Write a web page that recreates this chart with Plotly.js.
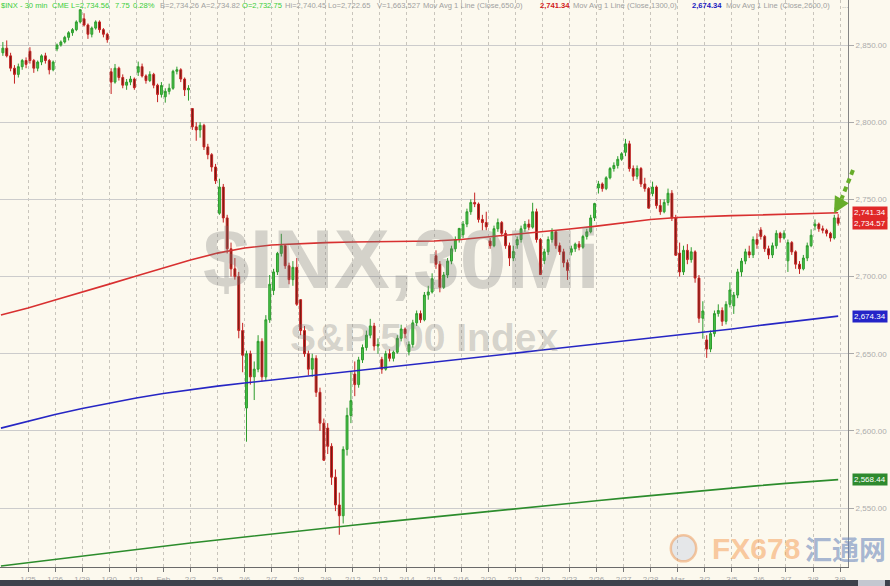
<!DOCTYPE html>
<html><head><meta charset="utf-8">
<script src="https://cdn.plot.ly/plotly-3.0.1.min.js"></script>
<style>html,body{margin:0;padding:0;background:#fcf9ee;}#chart{width:890px;height:586px;}</style>
</head><body><div id="chart"></div>
<script>
// ---- DATA ----
const BARS_PER_DAY = 7;
const dayLabels = ['1/24','1/25','1/26','1/29','1/30','1/31','Feb','2/2','2/5','2/6','2/7','2/8','2/9','2/12','2/13','2/14','2/15','2/16','2/20','2/21','2/22','2/23','2/26','2/27','2/28','Mar','3/2','3/5','3/6','3/7','3/8','3/9'];

const opens = [
 2845,2848,2843,2835,2831,2836,2840,
 2846,2840,2835,2839,2843,2840,2834,
 2847.5,2850,2852,2855,2858,2860,2865,
 2867,2863,2857,2861,2865,2860,2857,
 2832.7,2826,2835,2829,2824,2826,2828,
 2832.4,2836,2830,2827,2831,2824,2818,
 2816.5,2820,2822,2833,2834,2828,2821,
 2808.9,2797,2795,2798,2784,2779,2771,
 2741,2758,2738,2718,2705,2700,2665,
 2614.8,2650,2635,2640,2658,2635,2672,
 2691,2703,2715,2720,2707,2698,2706,
 2685,2665,2650,2640,2647,2625,2605,
 2601.8,2590,2570,2552,2545,2588,2610,
 2636.8,2630,2646,2654,2662,2668,2655,
 2646.3,2640,2650,2647,2651,2660,2666,
 2651.2,2656,2670,2676,2672,2688,2690,
 2713.5,2708,2693,2701,2710,2718,2724,
 2727.1,2734,2742,2748,2747,2737,2735,
 2723,2720,2731,2735,2728,2720,2712,
 2720.5,2724,2731,2734,2732,2742,2724,
 2710.4,2716,2724,2729,2720,2716,2709,
 2715.8,2718,2721,2719,2726,2729,2738,
 2757.4,2760,2757,2764,2770,2772,2776,
 2780.5,2786,2770,2765,2770,2760,2757,
 2753.8,2758,2746,2742,2748,2754,2738,
 2715.2,2703,2717,2711,2716,2699,2673,
 2658.9,2653,2663,2676,2678,2671,2682,
 2681,2688,2703,2710,2716,2714,2724,
 2730.2,2726,2718,2714,2720,2728,2725,
 2710.2,2722,2716,2708,2705,2712,2720,
 2732.75,2734,2731,2730,2728,2725,2738
];
const highs = [
 2852,2853,2845,2837,2838,2841,2842,
 2848.6,2841,2840,2844,2845,2841,2840,
 2851,2853,2856,2859,2861,2866,2873,
 2870.6,2864,2862,2866,2866,2861,2858,
 2835,2837.75,2836,2831,2828,2830,2829,
 2839.3,2838,2831,2833,2832,2825,2826,
 2822,2825,2834,2836,2835,2829,2824,
 2808.9,2800,2800,2799,2786,2780,2773,
 2763.4,2760,2740,2722,2712,2703,2670,
 2652,2652,2645,2662,2660,2675,2701,
 2705,2716,2727.7,2721,2709,2710,2712,
 2685.3,2668,2652,2650,2649,2628,2608,
 2605,2592,2575,2560,2590,2615,2638.7,
 2645,2648,2656,2665,2672.6,2670,2660,
 2648,2652,2653,2652,2662,2668.8,2667,
 2658,2672,2678,2678,2690,2694,2702.1,
 2717,2710,2703,2712,2720,2726,2731.5,
 2736,2744,2750,2754.4,2748,2740,2742,
 2725,2733,2737.6,2736,2730,2722,2720,
 2726,2733,2736,2737,2747.8,2744,2725,
 2718,2726,2731.3,2730,2722,2718,2711,
 2720,2722,2723,2727,2731,2740,2747.8,
 2762,2761,2765,2771,2774,2778,2780.6,
 2789.2,2788,2772,2772,2771,2764,2758,
 2761.5,2759,2750,2750,2757,2756,2740,
 2722,2720,2721,2719,2717,2701,2684,
 2662,2665,2678,2682,2680,2684,2696.3,
 2690,2705,2712,2718,2720,2726,2728,
 2732,2727,2720,2722,2730,2729,2730,
 2724,2723,2717,2710,2714,2722,2730.6,
 2737,2735,2733,2731,2729,2740,2740.45
];
const lows = [
 2843,2842,2833,2825,2829,2834,2835,
 2838,2832,2833,2837,2838,2831,2833,
 2846,2849,2851,2853,2856,2859,2864,
 2862,2854,2855,2860,2858,2855,2851.5,
 2818.3,2825,2827,2822,2821,2824,2821,
 2830,2829,2825,2826,2822,2813,2816,
 2812.7,2818,2821,2831,2826,2817,2814,
 2795,2788,2790,2782,2776,2768,2760,
 2740,2735,2715,2700,2698,2660,2638,
 2593,2630,2620,2638,2632,2633,2670,
 2688,2701,2713,2705,2695,2694,2681,
 2662,2648,2636,2635,2622,2600,2580.6,
 2585,2565,2548,2532.7,2540,2584,2605,
 2622.5,2628,2644,2652,2660,2652,2650,
 2637,2639,2645,2645,2650,2658,2660,
 2648.9,2654,2668,2670,2671,2685,2689,
 2705,2689.8,2692,2699,2708,2716,2722,
 2725,2732,2740,2745,2735,2730,2730,
 2718,2719,2729,2726,2718,2706.8,2710,
 2718,2722,2729,2730,2731,2722,2701.3,
 2708,2714,2722,2718,2714,2706,2697.8,
 2713.7,2716,2717,2718,2724,2728,2736,
 2753.8,2755,2756,2763,2768,2770,2775,
 2778,2768,2762,2763,2758,2755,2744.2,
 2752,2744,2740,2741,2746,2736,2713.5,
 2700,2701,2708,2709,2696,2670,2659.7,
 2647.3,2651,2661,2674,2668,2669,2680,
 2675.8,2686,2700,2708,2712,2712,2718,
 2724,2716,2711.3,2712,2718,2722,2724,
 2703,2714,2705,2701.7,2704,2710,2719,
 2730,2729,2728,2726,2722.65,2724,2733
];
const closes = [
 2848,2843,2835,2831,2836,2840,2837.5,
 2840,2835,2839,2843,2840,2834,2839,
 2850,2852,2855,2858,2860,2865,2872.9,
 2863,2857,2861,2865,2860,2857,2853.5,
 2826,2835,2829,2824,2826,2828,2822.4,
 2836,2830,2827,2831,2824,2818,2823.8,
 2820,2822,2833,2834,2828,2821,2822,
 2797,2795,2798,2784,2779,2771,2762.1,
 2758,2738,2718,2705,2700,2665,2649,
 2650,2635,2640,2658,2635,2672,2695,
 2703,2715,2720,2707,2698,2706,2682,
 2665,2650,2640,2647,2625,2605,2581,
 2590,2570,2552,2545,2588,2610,2619.6,
 2630,2646,2654,2662,2668,2655,2656,
 2640,2650,2647,2651,2660,2666,2663,
 2656,2670,2676,2672,2688,2690,2698.6,
 2708,2693,2701,2710,2718,2724,2731.2,
 2734,2742,2748,2747,2737,2735,2732.2,
 2720,2731,2735,2728,2720,2712,2716.3,
 2724,2731,2734,2732,2742,2724,2701.3,
 2716,2724,2729,2720,2716,2709,2704,
 2718,2721,2719,2726,2729,2738,2747.3,
 2760,2757,2764,2770,2772,2776,2779.6,
 2786,2770,2765,2770,2760,2757,2744.3,
 2758,2746,2742,2748,2754,2738,2713.8,
 2703,2717,2711,2716,2699,2673,2677.7,
 2653,2663,2676,2678,2671,2682,2691.3,
 2688,2703,2710,2716,2714,2724,2720.9,
 2726,2718,2714,2720,2728,2725,2728.1,
 2722,2716,2708,2705,2712,2720,2726.8,
 2734,2731,2730,2728,2725,2738,2734.56
];

// Moving averages, one value at the start of each day plus the last bar
const ma650 = [2675.1,2679.6,2684.8,2689.8,2695.1,2700.3,2705.5,2710.7,2715.2,2718.5,2720.4,2721.4,2722.0,2722.4,2722.5,2722.6,2723.0,2724.0,2725.6,2727.2,2728.8,2730.8,2732.7,2735.0,2737.0,2738.3,2739.0,2739.5,2739.9,2740.4,2740.9,2741.34];
const ma1300 = [2601.8,2606.4,2610.6,2614.5,2618.0,2621.3,2624.2,2626.8,2629.0,2631.0,2632.9,2634.9,2636.8,2638.8,2640.7,2642.7,2644.6,2646.5,2648.5,2650.4,2652.4,2654.3,2656.3,2658.2,2660.2,2662.1,2664.0,2666.0,2668.3,2670.2,2672.5,2674.34];
const ma2600 = [2512.4,2514.6,2516.8,2519.0,2521.1,2523.2,2525.3,2527.3,2529.3,2531.3,2533.2,2535.1,2537.0,2538.9,2540.7,2542.5,2544.3,2546.1,2547.9,2549.6,2551.3,2553.0,2554.7,2556.4,2558.1,2559.7,2561.3,2562.9,2564.5,2566.0,2567.5,2568.44];
const yTicks = [2550,2600,2650,2700,2750,2800,2850];
const lastLabels = ['2,741.34','2,734.57','2,674.34','2,568.44'];
const lastValues = [2741.34,2734.57,2674.34,2568.44];

// Header items: text, colour key, left pixel
const headerTexts = ['$INX - 30 min','CME','L=2,734.56','7.75','0.28%','B=2,734.26','A=2,734.82','O=2,732.75','Hi=2,740.45','Lo=2,722.65','V=1,663,527','Mov Avg 1 Line (Close,650,0)','2,741.34','Mov Avg 1 Line (Close,1300,0)','2,674.34','Mov Avg 1 Line (Close,2600,0)','...'];
const headerKinds = ['g','g','g','g','g','s','s','g','s','s','s','s','r','s','b','s','s'];
const headerLeft = [2,53,72,116,134,161,202,243,286,329,378,424,541,574,693,727,843];

// ---- BUILD ----
const xIdx = closes.map((_, i) => i);
const nDays = dayLabels.length - 1;
const maX = [];
for (let d = 0; d < nDays; d++) maX.push(d * BARS_PER_DAY - 0.5);
maX.push(closes.length - 1);
const tickVals = [], tickText = [];
for (let d = 1; d < dayLabels.length; d++) { tickVals.push(d * BARS_PER_DAY - 0.5); tickText.push(dayLabels[d]); }

const traces = [
 {type:'candlestick', x:xIdx, open:opens, high:highs, low:lows, close:closes,
  increasing:{line:{color:'#2e9c2e', width:1}, fillcolor:'#46c046'},
  decreasing:{line:{color:'#c42222', width:1}, fillcolor:'#6a1a0e'},
  whiskerwidth:0, hoverinfo:'skip'},
 {type:'scatter', mode:'lines', x:maX, y:ma650, line:{color:'#d83030', width:1.6}, hoverinfo:'skip'},
 {type:'scatter', mode:'lines', x:maX, y:ma1300, line:{color:'#2626c4', width:1.6}, hoverinfo:'skip'},
 {type:'scatter', mode:'lines', x:maX, y:ma2600, line:{color:'#2c8c2c', width:1.6}, hoverinfo:'skip'}
];

const PLOT_W = 848;
const kindColor = {g:'#3acd3a', s:'#a0a0a0', r:'#d02020', b:'#2020c0'};
const annotations = [];
headerTexts.forEach((t, i) => annotations.push({
 xref:'paper', yref:'paper', x:headerLeft[i] / PLOT_W, y:1, xanchor:'left', yanchor:'top', yshift:-1, xshift:-1,
 borderpad:0, borderwidth:0,
 showarrow:false, text:(headerKinds[i] === 'r' || headerKinds[i] === 'b') ? '<b>' + t + '</b>' : t,
 font:{family:'Liberation Sans, Arial, sans-serif', size:7.6, color:kindColor[headerKinds[i]]}
}));
annotations.push(
 {xref:'paper', yref:'paper', x:0.474, y:0.543, xanchor:'center', yanchor:'middle', showarrow:false, text:'<b>$INX,30Mi</b>',
  font:{family:'Liberation Sans, Arial, sans-serif', size:84, color:'rgba(120,120,120,0.30)'}},
 {xref:'paper', yref:'paper', x:0.500, y:0.404, xanchor:'center', yanchor:'middle', showarrow:false, text:'<b>S&amp;P 500 Index</b>',
  font:{family:'Liberation Sans, Arial, sans-serif', size:39, color:'rgba(120,120,120,0.30)'}},
 {xref:'paper', yref:'paper', x:0.8915, y:0.0335, xanchor:'center', yanchor:'middle', showarrow:false, text:'<b>FX678</b>',
  font:{family:'Liberation Sans, Arial, sans-serif', size:30, color:'rgba(246,160,90,0.55)'}},
 {xref:'paper', yref:'paper', x:0.9965, y:0.0335, xanchor:'center', yanchor:'middle', showarrow:false, text:'<b>汇通网</b>',
  font:{family:'Noto Sans CJK SC, sans-serif', size:27, color:'rgba(95,125,185,0.55)'}},
 {xref:'paper', yref:'paper', x:0.9835, y:0.624, ax:9, ay:-16, showarrow:true, arrowhead:2, arrowsize:0.8, arrowwidth:4, arrowcolor:'#67ad2a', text:''}
);
const labelColors = ['#e02828','#e02828','#2424c8','#2e8a2e'];
lastLabels.forEach((t, i) => annotations.push({
 xref:'paper', yref:'y', x:1, xanchor:'left', yanchor:'middle', xshift:4, y:lastValues[i], showarrow:false,
 text:t, bgcolor:labelColors[i], borderpad:1,
 font:{family:'Liberation Sans, Arial, sans-serif', size:8, color:'#ffffff'}
}));

const shapes = [
 {type:'line', xref:'paper', yref:'paper', x0:1.0059, y0:0.700, x1:0.9925, y1:0.650, line:{color:'#67ad2a', width:4, dash:'5px,4px'}},
 {type:'rect', xref:'paper', yref:'paper', x0:0, x1:1.0495, y0:-0.0335, y1:-0.0229, line:{width:0}, fillcolor:'#3d424c'},
 {type:'rect', xref:'paper', yref:'paper', x0:1.0118, x1:1.0436, y0:-0.0335, y1:-0.0229, line:{width:0}, fillcolor:'#c3c7d0'},
 {type:'circle', xref:'paper', yref:'paper', x0:0.791, x1:0.821, y0:0.010, y1:0.056, line:{color:'rgba(240,150,80,0.5)', width:2.5}, fillcolor:'rgba(160,180,220,0.25)'}
];

const layout = {
 width:890, height:586,
 margin:{l:0, r:42, t:0, b:19},
 paper_bgcolor:'#fcf9ee', plot_bgcolor:'#fcf9ee',
 showlegend:false,
 xaxis:{range:[-0.74, 218.54], tickmode:'array', tickvals:tickVals, ticktext:tickText,
  showgrid:true, gridcolor:'#c9c5bc', griddash:'dot', gridwidth:1,
  ticks:'outside', ticklen:4, tickcolor:'#777', showline:true, linecolor:'#6a6a6a', linewidth:1,
  tickfont:{family:'Liberation Sans, Arial, sans-serif', size:8, color:'#a6a6a6'},
  rangeslider:{visible:false}, zeroline:false, fixedrange:true},
 yaxis:{side:'right', range:[2511.8, 2879.2], tickmode:'array', tickvals:yTicks, tickformat:',.2f',
  showgrid:true, gridcolor:'#cccccc', gridwidth:1, zeroline:false,
  showline:true, linecolor:'#858585', ticks:'outside', ticklen:5, tickcolor:'#aaaaaa',
  tickfont:{family:'Liberation Sans, Arial, sans-serif', size:8, color:'#acacac'}, fixedrange:true},
 annotations:annotations, shapes:shapes
};

Plotly.newPlot('chart', traces, layout, {displayModeBar:false, staticPlot:true});
</script>
</body></html>
